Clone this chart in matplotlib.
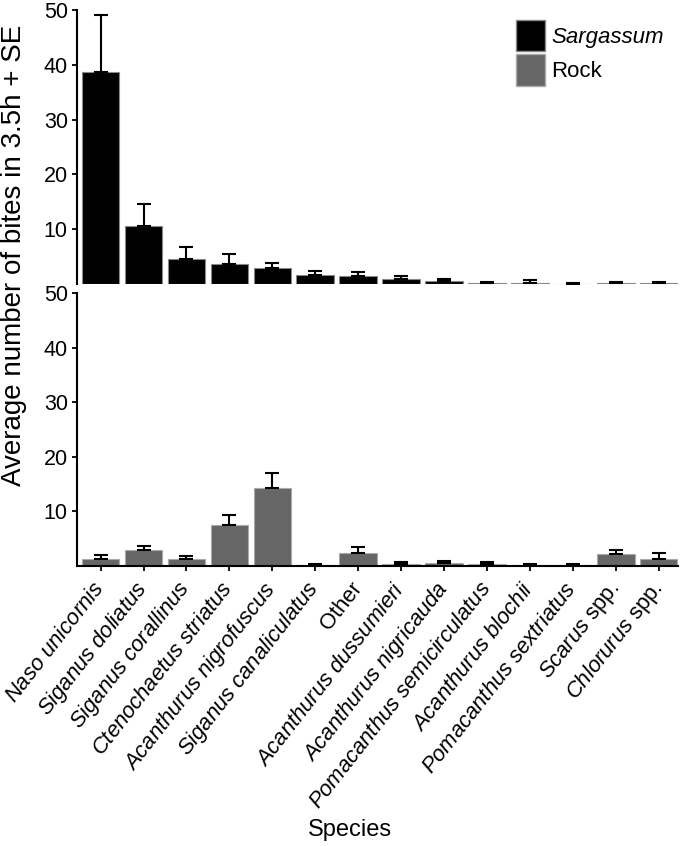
import numpy as np
import matplotlib
matplotlib.use('Agg')
import matplotlib.pyplot as plt
from matplotlib.patches import Patch

# 字体设置
plt.rcParams['font.family'] = ['Liberation Sans', 'DejaVu Sans']
plt.rcParams['mathtext.fontset'] = 'custom'
plt.rcParams['mathtext.rm'] = 'Liberation Sans'
plt.rcParams['mathtext.it'] = 'Liberation Sans:italic'

# 数据
species = ['Naso unicornis', 'Siganus doliatus', 'Siganus corallinus',
           'Ctenochaetus striatus', 'Acanthurus nigrofuscus',
           'Siganus canaliculatus', 'Other', 'Acanthurus dussumieri',
           'Acanthurus nigricauda', 'Pomacanthus semicirculatus',
           'Acanthurus blochii', 'Pomacanthus sextriatus',
           'Scarus spp.', 'Chlorurus spp.']
sargassum_mean = [38.7, 10.6, 4.6, 3.6, 3.0, 1.6, 1.4, 1.0, 0.6, 0.15, 0.25, 0.05, 0.15, 0.15]
sargassum_se = [10.4, 4.0, 2.1, 1.85, 0.9, 0.8, 0.8, 0.45, 0.4, 0.15, 0.4, 0.05, 0.15, 0.15]
rock_mean = [1.3, 2.85, 1.2, 7.6, 14.3, 0.1, 2.3, 0.4, 0.55, 0.3, 0.15, 0.1, 2.2, 1.35]
rock_se = [0.7, 0.9, 0.7, 1.7, 2.8, 0.2, 1.1, 0.3, 0.45, 0.4, 0.2, 0.25, 0.7, 1.0]
yticks = [10, 20, 30, 40, 50]


def fmt_label(name):
    # 物种名斜体, "Other" 和 "spp." 正体
    if name == 'Other':
        return name
    if name.endswith(' spp.'):
        return r'$\mathit{' + name[:-5] + '}$ spp.'
    return r'$\mathit{' + name.replace(' ', r'\ ') + '}$'


W, H = 685, 846
fig = plt.figure(figsize=(W / 100, H / 100), dpi=100)
x0, x1 = 77, 678
ax_top = fig.add_axes([x0 / W, 1 - 284 / H, (x1 - x0) / W, 274 / H])
ax_bot = fig.add_axes([x0 / W, 1 - 566 / H, (x1 - x0) / W, 273 / H])

x = np.arange(len(species))
bar_kw = dict(width=0.875, linewidth=0.8, capsize=4.7,
              error_kw=dict(elinewidth=1.5, capthick=1.5, ecolor='black'))

ax_top.bar(x, sargassum_mean, color='black', edgecolor='#888888',
           yerr=[np.zeros(len(x)), sargassum_se], **bar_kw)
ax_bot.bar(x, rock_mean, color='#666666', edgecolor='#aaaaaa',
           yerr=[np.zeros(len(x)), rock_se], **bar_kw)

for ax in (ax_top, ax_bot):
    ax.set_xlim(-0.55, 13.45)
    ax.set_ylim(0, 50)
    ax.set_yticks(yticks)
    for s in ('top', 'right'):
        ax.spines[s].set_visible(False)
    ax.spines['left'].set_linewidth(1.5)
    ax.spines['bottom'].set_linewidth(1.5)
    ax.tick_params(axis='y', labelsize=15.5, length=3.6, width=1.3, pad=3)
    ax.tick_params(axis='x', length=3.6, width=1.3)

ax_top.spines['bottom'].set_visible(False)
ax_top.set_xticks([])

ax_bot.set_xticks(x)
ax_bot.set_xticklabels([fmt_label(s) for s in species], rotation=52,
                       ha='right', va='center', rotation_mode='anchor',
                       fontsize=15.8)
ax_bot.tick_params(axis='x', pad=10)

# 轴标签
fig.text(14 / W, 1 - 255 / H, 'Average number of bites in 3.5h + SE',
         rotation=90, ha='center', va='center', fontsize=20)
fig.text(350 / W, 1 - 830 / H, 'Species', ha='center', va='center', fontsize=17)

# 图例
handles = [Patch(facecolor='black', edgecolor='#888888'),
           Patch(facecolor='#666666', edgecolor='#aaaaaa')]
leg = fig.legend(handles, ['Sargassum', 'Rock'], loc='upper left',
                 bbox_to_anchor=(516 / W, 1 - 20 / H), frameon=False,
                 fontsize=16, handlelength=1.3, handleheight=1.8,
                 handletextpad=0.3, labelspacing=0.12, borderpad=0,
                 borderaxespad=0)
leg.get_texts()[0].set_style('italic')

fig.savefig('out.png', dpi=100)
